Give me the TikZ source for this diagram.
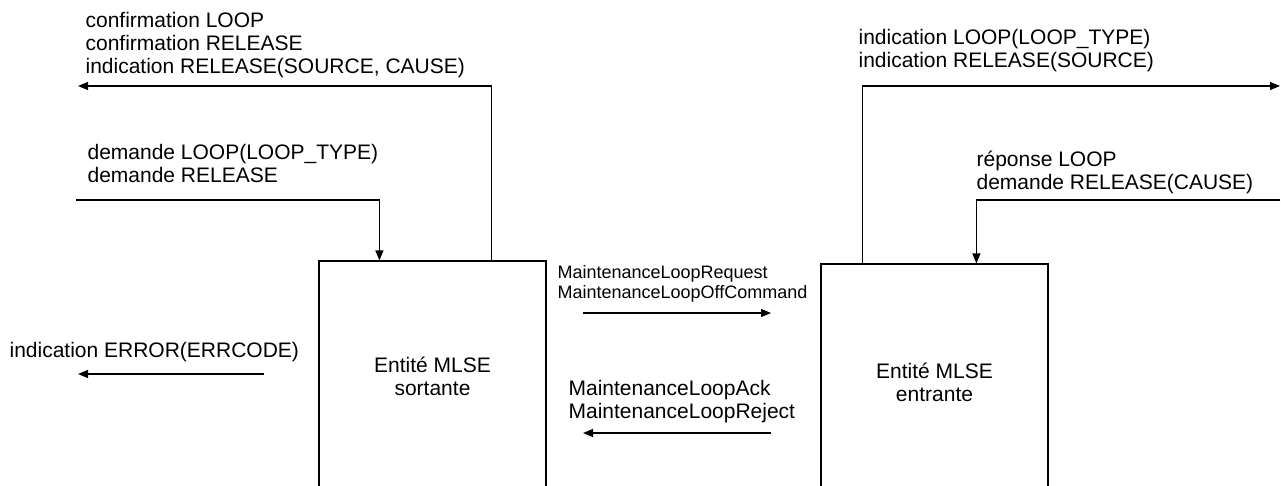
\documentclass[tikz,border=0pt]{standalone}
\usepackage{fontspec}
\setmainfont{Liberation Sans}
\usetikzlibrary{arrows.meta,calc}
\begin{document}
\begin{tikzpicture}[x=1pt,y=-1pt,
  line width=1.2pt,
  arr/.style={-{Triangle[length=10pt,width=8pt]}},
  lbl/.style={inner sep=0pt,anchor=base west,align=left,font=\fontsize{21}{23}\selectfont},
  slbl/.style={inner sep=0pt,anchor=base west,align=left,font=\fontsize{18}{20}\selectfont},
  entity/.style={draw,minimum width=227pt,inner sep=0pt,align=center,font=\fontsize{21}{23}\selectfont}]
\useasboundingbox (0,0) rectangle (1281,486);
% entities
\node[entity,minimum height=230pt] (out) at (432.5,376) {Entité MLSE\\sortante};
\node[entity,minimum height=236pt] (in) at (934.5,382) {Entité MLSE\\entrante};
% free ends
\coordinate (cfEnd) at (78,86);
\coordinate (dmStart) at (76,200);
\coordinate (inEnd) at (1280,86);
\coordinate (rpStart) at (1280,200);
\coordinate (rqA) at (583,313);
\coordinate (rqB) at (771,313);
\coordinate (akA) at (771,433);
\coordinate (akB) at (583,433);
\coordinate (erA) at (264,374);
\coordinate (erB) at (78,374);
% connectors
\draw[arr] ($(out.north west)+(173,0)$) |- (cfEnd);
\draw[arr] (dmStart) -| ($(out.north west)+(61,0)$);
\draw[arr] ($(in.north west)+(42,0)$) |- (inEnd);
\draw[arr] (rpStart) -| ($(in.north west)+(156,0)$);
\draw[arr] (rqA) -- (rqB);
\draw[arr] (akA) -- (akB);
\draw[arr] (erA) -- (erB);
% labels (anchor = baseline of last line)
\node[lbl] (t1) at (85,74) {confirmation LOOP\\confirmation RELEASE\\indication RELEASE(SOURCE, CAUSE)};
\node[lbl] (t2) at (87,183) {demande LOOP(LOOP\_TYPE)\\demande RELEASE};
\node[lbl] (t3) at (858,68) {indication LOOP(LOOP\_TYPE)\\indication RELEASE(SOURCE)};
\node[lbl] (t4) at (976,190) {réponse LOOP\\demande RELEASE(CAUSE)};
\node[slbl] (t5) at (557,298) {MaintenanceLoopRequest\\MaintenanceLoopOffCommand};
\node[lbl] (t6) at (568,418) {MaintenanceLoopAck\\MaintenanceLoopReject};
\node[lbl] (t7) at (9,357) {indication ERROR(ERRCODE)};
\end{tikzpicture}
\end{document}
